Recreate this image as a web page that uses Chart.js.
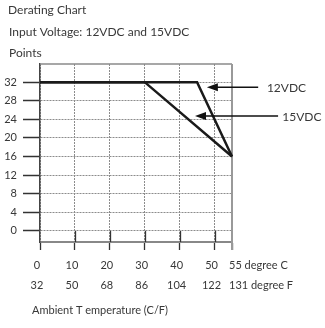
<!DOCTYPE html>
<html lang="en">
<head>
    <meta charset="UTF-8">
    <title>Derating Chart</title>
    <style>
        body {
            margin: 0;
            padding: 0;
            background-color: #fff;
        }
        canvas {
            display: block;
        }
    </style>
</head>
<body>
    <canvas id="deratingChart" width="325" height="328"></canvas>

    <script src="https://cdn.jsdelivr.net/npm/chart.js"></script>
    <script>
        // Data
        const tempC = [0, 10, 20, 30, 40, 50, 55];
        const tempF = [32, 50, 68, 86, 104, 122, 131];
        const pointTicks = [0, 4, 8, 12, 16, 20, 24, 28, 32];

        const v12Temp = [0, 45, 55];
        const v12Points = [32, 32, 16];
        const v15Temp = [0, 30, 55];
        const v15Points = [32, 32, 16];

        const titleLines = ['Derating Chart', 'Input Voltage: 12VDC and 15VDC', 'Points'];
        const xTitle = 'Ambient T emperature (C/F)';
        const unitC = 'degree C';
        const unitF = 'degree F';

        const FONT = 'Lato, "Open Sans", sans-serif';
        const TEXT = '#383838';

        // arrows pointing at the two curves (in chart units)
        const callouts = [
            { label: '12VDC', tip: 47.8, tail: 62.5, text: 65.0, y: 30.9 },
            { label: '15VDC', tip: 44.4, tail: 68.2, text: 69.4, y: 24.7 }
        ];

        function toPoints(xs, ys) {
            return xs.map((x, i) => ({ x: x, y: ys[i] }));
        }

        // frame round the plot + solid stubs under the zero line
        const framePlugin = {
            id: 'frame',
            beforeDatasetsDraw(chart) {
                const ctx = chart.ctx;
                const a = chart.chartArea;
                const xs = chart.scales.x;
                const ys = chart.scales.y;
                const zero = ys.getPixelForValue(0);
                ctx.save();
                ctx.strokeStyle = '#333';
                ctx.lineWidth = 1.3;
                tempC.slice(1, -1).forEach(c => {
                    const px = Math.round(xs.getPixelForValue(c)) + 0.5;
                    ctx.beginPath();
                    ctx.moveTo(px, zero);
                    ctx.lineTo(px, a.bottom);
                    ctx.stroke();
                });
                ctx.strokeStyle = '#8a8a8a';
                ctx.lineWidth = 1.5;
                ctx.beginPath();
                ctx.moveTo(a.left, a.top);
                ctx.lineTo(a.right, a.top);
                ctx.stroke();
                ctx.strokeStyle = '#999';
                ctx.lineWidth = 2;
                ctx.beginPath();
                ctx.moveTo(a.right, a.top);
                ctx.lineTo(a.right, a.bottom + 8);
                ctx.stroke();
                ctx.restore();
            },
            afterDraw(chart) {
                const ctx = chart.ctx;
                const a = chart.chartArea;
                const xs = chart.scales.x;
                const ys = chart.scales.y;
                ctx.save();
                ctx.fillStyle = TEXT;
                ctx.textBaseline = 'alphabetic';
                ctx.textAlign = 'left';

                // titles
                ctx.font = '12px ' + FONT;
                const titleY = [14, 36, 57];
                titleLines.forEach((t, i) => ctx.fillText(t, i === 0 ? 8 : 9, titleY[i]));

                // x tick labels, Celsius and Fahrenheit rows
                ctx.font = '11px ' + FONT;
                tempC.forEach((c, i) => {
                    const px = xs.getPixelForValue(c);
                    const last = i === tempC.length - 1;
                    ctx.textAlign = last ? 'left' : 'center';
                    const tx = px - 3;
                    ctx.fillText(last ? c + ' ' + unitC : String(c), tx, a.bottom + 27);
                    ctx.fillText(last ? tempF[i] + ' ' + unitF : String(tempF[i]), tx, a.bottom + 47);
                });

                // axis title
                ctx.textAlign = 'left';
                ctx.font = '11px ' + FONT;
                ctx.fillText(xTitle, 32, a.bottom + 72);

                // callout arrows
                ctx.strokeStyle = '#111';
                ctx.lineWidth = 1.5;
                ctx.textBaseline = 'middle';
                ctx.font = '12px ' + FONT;
                callouts.forEach(c => {
                    const py = ys.getPixelForValue(c.y);
                    const tip = xs.getPixelForValue(c.tip);
                    const tail = xs.getPixelForValue(c.tail);
                    ctx.beginPath();
                    ctx.moveTo(tip + 8, py);
                    ctx.lineTo(tail, py);
                    ctx.stroke();
                    ctx.beginPath();
                    ctx.moveTo(tip, py);
                    ctx.lineTo(tip + 11, py - 4);
                    ctx.lineTo(tip + 11, py + 4);
                    ctx.closePath();
                    ctx.fillStyle = '#111';
                    ctx.fill();
                    ctx.fillStyle = TEXT;
                    ctx.fillText(c.label, xs.getPixelForValue(c.text), py + 1);
                });
                ctx.restore();
            }
        };

        const lineStyle = {
            borderColor: '#1a1a1a',
            borderWidth: 2.5,
            pointRadius: 0,
            borderJoinStyle: 'miter',
            tension: 0,
            clip: false
        };

        new Chart(document.getElementById('deratingChart'), {
            type: 'line',
            data: {
                datasets: [
                    Object.assign({ label: '15VDC', data: toPoints(v15Temp, v15Points) }, lineStyle),
                    Object.assign({ label: '12VDC', data: toPoints(v12Temp, v12Points) }, lineStyle)
                ]
            },
            options: {
                responsive: false,
                animation: false,
                layout: { padding: { top: 64, right: 93, bottom: 0, left: 0 } },
                plugins: {
                    legend: { display: false },
                    tooltip: { enabled: false },
                    title: { display: false }
                },
                scales: {
                    x: {
                        type: 'linear',
                        min: 0,
                        max: 55,
                        afterBuildTicks: s => { s.ticks = tempC.map(v => ({ value: v })); },
                        afterFit: s => { s.height = 86; },
                        ticks: { display: false },
                        grid: {
                            color: '#8c8c8c',
                            lineWidth: 1,
                            tickLength: 8,
                            tickColor: '#333',
                            tickWidth: 1.3,
                            tickBorderDash: []
                        },
                        border: { color: '#888', width: 2, dash: [2, 1] }
                    },
                    y: {
                        type: 'linear',
                        min: -2.4,
                        max: 35.9,
                        afterBuildTicks: s => { s.ticks = pointTicks.map(v => ({ value: v })); },
                        afterFit: s => { s.width = 40; },
                        ticks: {
                            color: TEXT,
                            padding: 6,
                            font: { family: FONT, size: 11 }
                        },
                        grid: {
                            color: '#8c8c8c',
                            lineWidth: 1,
                            tickLength: 17,
                            tickColor: '#333',
                            tickWidth: 1.5,
                            tickBorderDash: []
                        },
                        border: { color: '#444', width: 1.5, dash: [2, 1] }
                    }
                }
            },
            plugins: [framePlugin]
        });
    </script>
</body>
</html>
